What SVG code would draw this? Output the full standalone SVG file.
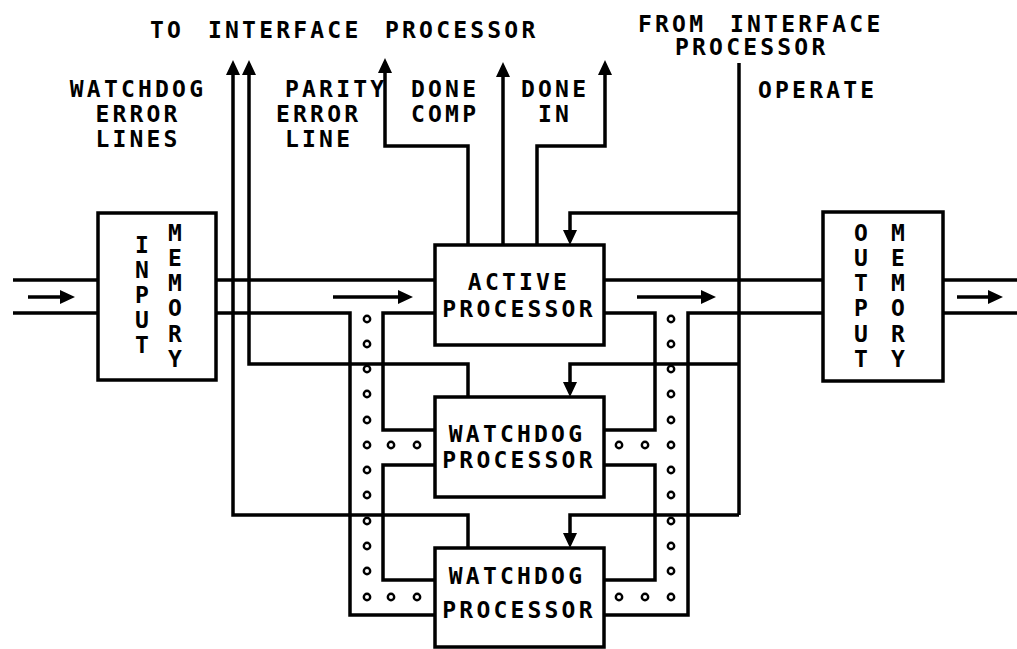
<svg xmlns="http://www.w3.org/2000/svg" width="1017" height="649" viewBox="0 0 1017 649">
<style>
.bg{fill:#fff}
.box{fill:#fff;stroke:#000;stroke-width:3.5}
.ln{fill:none;stroke:#000;stroke-width:3.5;stroke-linejoin:miter}
.ar{fill:none;stroke:#000;stroke-width:3.5;marker-end:url(#ah)}
.dot{fill:#fff;stroke:#000;stroke-width:2.4}
text{font-family:"DejaVu Sans Mono","Liberation Mono",monospace;font-weight:bold;font-size:23px;fill:#000;letter-spacing:3.2px}
.c{text-anchor:middle}
.v{text-anchor:middle;letter-spacing:0}
</style>
<defs>
<marker id="ah" markerUnits="userSpaceOnUse" markerWidth="16" markerHeight="16" viewBox="0 -8 16 16" refX="11" refY="0" orient="auto" overflow="visible">
<path d="M0,-7 L15,0 L0,7 Z" fill="#000"/>
</marker>
</defs>
<rect class="bg" x="0" y="0" width="1017" height="649"/>

<g id="bus-dots">
<g id="left-dots">
<circle class="dot" cx="367" cy="319" r="3.2"/><circle class="dot" cx="367" cy="344" r="3.2"/><circle class="dot" cx="367" cy="369" r="3.2"/><circle class="dot" cx="367" cy="394" r="3.2"/><circle class="dot" cx="367" cy="420" r="3.2"/><circle class="dot" cx="367" cy="445" r="3.2"/><circle class="dot" cx="367" cy="470" r="3.2"/><circle class="dot" cx="367" cy="495" r="3.2"/><circle class="dot" cx="367" cy="521" r="3.2"/><circle class="dot" cx="367" cy="546" r="3.2"/><circle class="dot" cx="367" cy="571" r="3.2"/><circle class="dot" cx="367" cy="597" r="3.2"/>
<circle class="dot" cx="391" cy="445" r="3.2"/><circle class="dot" cx="417" cy="445" r="3.2"/>
<circle class="dot" cx="391" cy="597" r="3.2"/><circle class="dot" cx="417" cy="597" r="3.2"/>
</g>
<g id="right-dots">
<circle class="dot" cx="671" cy="319" r="3.2"/><circle class="dot" cx="671" cy="344" r="3.2"/><circle class="dot" cx="671" cy="369" r="3.2"/><circle class="dot" cx="671" cy="394" r="3.2"/><circle class="dot" cx="671" cy="420" r="3.2"/><circle class="dot" cx="671" cy="445" r="3.2"/><circle class="dot" cx="671" cy="470" r="3.2"/><circle class="dot" cx="671" cy="495" r="3.2"/><circle class="dot" cx="671" cy="521" r="3.2"/><circle class="dot" cx="671" cy="546" r="3.2"/><circle class="dot" cx="671" cy="571" r="3.2"/><circle class="dot" cx="671" cy="597" r="3.2"/>
<circle class="dot" cx="619" cy="445" r="3.2"/><circle class="dot" cx="645" cy="445" r="3.2"/>
<circle class="dot" cx="619" cy="597" r="3.2"/><circle class="dot" cx="645" cy="597" r="3.2"/>
</g>
</g>

<g id="connectors">
<path class="ln" d="M13,280 H98 M13,313 H98"/>
<path class="ln" d="M216,280 H435"/>
<path class="ln" d="M216,313 H350 V615 H435"/>
<path class="ln" d="M435,313 H383 V430 H435"/>
<path class="ln" d="M435,465 H383 V580 H435"/>
<path class="ln" d="M604,280 H823"/>
<path class="ln" d="M823,313 H688 V615 H604"/>
<path class="ln" d="M604,313 H655 V430 H604"/>
<path class="ln" d="M604,465 H655 V580 H604"/>
<path class="ln" d="M943,280 H1017 M943,313 H1017"/>
<path class="ar" d="M28,297 H71"/>
<path class="ar" d="M333,297 H409"/>
<path class="ar" d="M637,297 H712"/>
<path class="ar" d="M957,297 H999"/>
<path class="ar" d="M468,397 V364 H249 V64"/>
<path class="ar" d="M468,548 V515 H233 V64"/>
<path class="ar" d="M468,245 V146 H385 V62"/>
<path class="ar" d="M503,245 V66"/>
<path class="ar" d="M537,245 V146 H605 V64"/>
<path class="ln" d="M739,63 V515"/>
<path class="ar" d="M739,213 H570 V241"/>
<path class="ar" d="M739,364 H570 V393"/>
<path class="ar" d="M739,515 H570 V544"/>
</g>

<g id="input-memory">
<rect class="box" x="98" y="213" width="118" height="167"/>
<text class="v"><tspan x="142" y="253">I</tspan><tspan x="142" y="278">N</tspan><tspan x="142" y="303">P</tspan><tspan x="142" y="328">U</tspan><tspan x="142" y="353">T</tspan></text>
<text class="v"><tspan x="175" y="241">M</tspan><tspan x="175" y="266">E</tspan><tspan x="175" y="291">M</tspan><tspan x="175" y="316">O</tspan><tspan x="175" y="342">R</tspan><tspan x="175" y="367">Y</tspan></text>
</g>

<g id="active-processor">
<rect class="box" x="435" y="245" width="169" height="100"/>
<text class="c" x="519" y="290">ACTIVE</text>
<text class="c" x="519" y="317">PROCESSOR</text>
</g>

<g id="watchdog-processor-1">
<rect class="box" x="435" y="397" width="169" height="100"/>
<text class="c" x="517" y="442">WATCHDOG</text>
<text class="c" x="519" y="468">PROCESSOR</text>
</g>

<g id="watchdog-processor-2">
<rect class="box" x="435" y="548" width="169" height="99"/>
<text class="c" x="517" y="584">WATCHDOG</text>
<text class="c" x="519" y="618">PROCESSOR</text>
</g>

<g id="output-memory">
<rect class="box" x="823" y="212" width="120" height="169"/>
<text class="v"><tspan x="861" y="241">O</tspan><tspan x="861" y="266">U</tspan><tspan x="861" y="291">T</tspan><tspan x="861" y="316">P</tspan><tspan x="861" y="342">U</tspan><tspan x="861" y="367">T</tspan></text>
<text class="v"><tspan x="898" y="241">M</tspan><tspan x="898" y="266">E</tspan><tspan x="898" y="291">M</tspan><tspan x="898" y="316">O</tspan><tspan x="898" y="342">R</tspan><tspan x="898" y="367">Y</tspan></text>
</g>

<g id="labels">
<text y="38"><tspan x="150">TO</tspan> <tspan x="208">INTERFACE</tspan> <tspan x="385">PROCESSOR</tspan></text>
<text class="c" x="138" y="97">WATCHDOG</text>
<text class="c" x="138" y="122">ERROR</text>
<text class="c" x="138" y="147">LINES</text>
<text x="285" y="97">PARITY</text>
<text x="276" y="122">ERROR</text>
<text x="285" y="147">LINE</text>
<text x="411" y="97">DONE</text>
<text x="411" y="122">COMP</text>
<text x="521" y="97">DONE</text>
<text x="538" y="122">IN</text>
<text y="32"><tspan x="638">FROM</tspan> <tspan x="730">INTERFACE</tspan></text>
<text x="675" y="55">PROCESSOR</text>
<text x="758" y="98">OPERATE</text>
</g>
</svg>
